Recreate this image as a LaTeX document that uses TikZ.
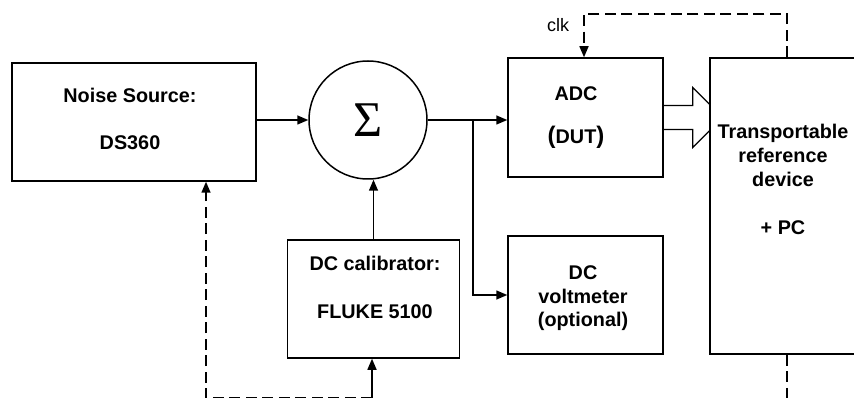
\documentclass[tikz,border=0pt]{standalone}
\usepackage{fontspec}
\setmainfont{Liberation Sans}
\newfontfamily\sigfont{Liberation Serif}
\usetikzlibrary{arrows.meta}
\begin{document}
\begin{tikzpicture}[x=1pt,y=-1pt,
  lw/.style={line width=1.5pt},
  box/.style={draw,lw,fill=white,inner sep=0pt},
  arr/.style={lw,-{Triangle[length=11pt,width=9pt]}},
  dsh/.style={lw,dash pattern=on 11pt off 5.5pt},
  lbl/.style={font=\fontsize{19.8}{23}\selectfont\bfseries,inner sep=0pt,anchor=base}]
\useasboundingbox (0,0) rectangle (854,398);
\clip (0,0) rectangle (854,398);
% boxes
\node[box,minimum width=244pt,minimum height=118pt] (noise) at (134,122) {};
\node[box,circle,minimum size=118pt,font=\sigfont\fontsize{50}{50}\selectfont] (sig) at (368,120) {Σ};
\node[box,minimum width=172pt,minimum height=118pt] (dccal) at (373.5,299) {};
\node[box,minimum width=155pt,minimum height=119pt] (adc) at (585.5,117.5) {};
\node[box,minimum width=155pt,minimum height=118pt] (volt) at (585.5,295) {};
% hollow data arrow
\draw[line width=1.2pt,line join=miter] ([yshift=12pt]adc.east) -- ++(29,0) -- ++(0,-18) -- ++(30,30) -- ++(-30,30) -- ++(0,-18) -- ([yshift=-12pt]adc.east);
\node[box,minimum width=190pt,minimum height=296pt] (ref) at (805,206) {};
% texts
\node[lbl] (t1) at (130,102.5) {Noise Source:};
\node[lbl] (t2) at (130,150) {DS360};
\node[lbl] (t3) at (375,270) {DC calibrator:};
\node[lbl] (t4) at (375,318) {FLUKE 5100};
\node[lbl] (t5) at (576,101) {ADC};
\node[lbl] (t6) at (576,144) {{\fontsize{24}{24}\selectfont(}DUT{\fontsize{24}{24}\selectfont)}};
\node[lbl] (t7) at (583,279) {DC};
\node[lbl] (t8) at (583,303) {voltmeter};
\node[lbl] (t9) at (583,326) {(optional)};
\node[lbl] (t10) at (783,139) {Transportable};
\node[lbl] (t11) at (783,163) {reference};
\node[lbl] (t12) at (783,187) {device};
\node[lbl] (t13) at (783,234) {+ PC};
\node[font=\fontsize{18}{18}\selectfont,inner sep=0pt,anchor=base] (clk) at (558,32) {clk};
% coordinates
\coordinate (jn) at (473,120);
\coordinate (c1) at (584,14);
\coordinate (c2) at (787,14);
\coordinate (b1) at (206,398.2);
\coordinate (b2) at (372,398.2);
\coordinate (r1) at (787,398);
% connectors
\draw[arr] (noise.east |- sig.west) -- (sig.west);
\draw[lw] (sig.east) -- (jn);
\draw[arr] (jn) -- (jn -| adc.west);
\draw[arr] (jn) |- (volt.west);
\draw[arr] (dccal.north) -- (dccal.north |- sig.south);
\draw[dsh,-{Triangle[length=11pt,width=9pt]}] (ref.north -| c2) -- (c2) -- (c1) -- (c1 |- adc.north);
\draw[dsh,-{Triangle[length=11pt,width=9pt]}] (b2) -- (b1) -- (b1 |- noise.south);
\draw[arr] (b2) -- (b2 |- dccal.south);
\draw[dsh] (ref.south -| c2) -- (r1);
\end{tikzpicture}
\end{document}
